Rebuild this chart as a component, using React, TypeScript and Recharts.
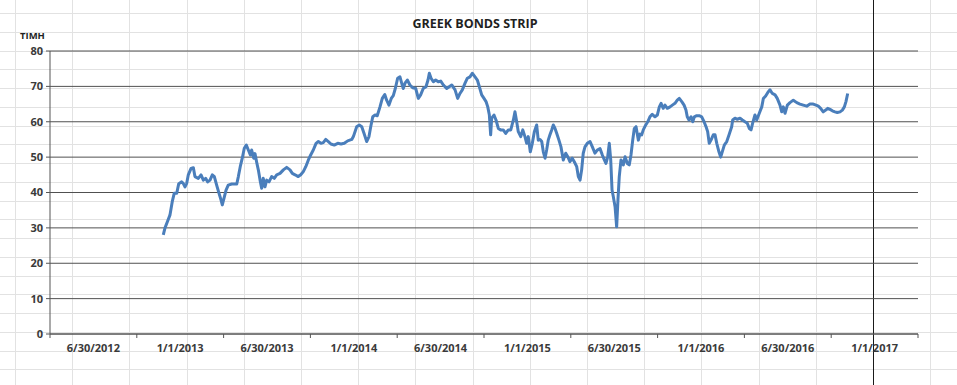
import { LineChart, Line, XAxis, YAxis, CartesianGrid } from 'recharts';

// x = months counted from 1/1/2012 (6/30/2012 ≈ 6, 1/1/2013 = 12 ...)
const months = [
  10.83, 10.95, 11.14, 11.29, 11.45, 11.59, 11.76, 11.9, 12.1, 12.21, 12.33, 12.45, 12.56, 12.75, 12.91, 13.02,
  13.25, 13.44, 13.6, 13.76, 13.9, 14.06, 14.22, 14.36, 14.52, 14.68, 14.82, 14.91, 15.03, 15.17, 15.32, 15.56,
  15.91, 16.02, 16.15, 16.29, 16.43, 16.57, 16.71, 16.85, 16.94, 17.08, 17.17, 17.29, 17.4, 17.52, 17.63, 17.74,
  17.86, 17.98, 18.14, 18.32, 18.5, 18.67, 18.9, 19.13, 19.36, 19.59, 19.75, 19.94, 20.16, 20.33, 20.51, 20.68,
  20.86, 21.02, 21.2, 21.39, 21.55, 21.73, 21.89, 22.06, 22.24, 22.42, 22.65, 22.89, 23.12, 23.34, 23.58, 23.86,
  23.97, 24.2, 24.38, 24.55, 24.71, 24.89, 25.05, 25.17, 25.31, 25.47, 25.62, 25.81, 25.97, 26.14, 26.27, 26.43,
  26.59, 26.73, 26.87, 27.03, 27.19, 27.31, 27.42, 27.54, 27.7, 27.88, 28.07, 28.28, 28.46, 28.62, 28.8, 28.99,
  29.13, 29.22, 29.34, 29.5, 29.66, 29.84, 30.01, 30.19, 30.42, 30.77, 31.0, 31.18, 31.34, 31.5, 31.69, 31.85,
  32.03, 32.19, 32.38, 32.54, 32.68, 32.84, 33.0, 33.14, 33.26, 33.37, 33.46, 33.53, 33.69, 33.83, 33.99, 34.15,
  34.33, 34.5, 34.68, 34.85, 35.03, 35.14, 35.26, 35.37, 35.54, 35.68, 35.83, 35.95, 36.06, 36.2, 36.34, 36.48,
  36.64, 36.75, 36.87, 36.99, 37.1, 37.22, 37.33, 37.44, 37.56, 37.68, 37.79, 37.91, 38.03, 38.18, 38.32, 38.48,
  38.65, 38.79, 38.94, 39.1, 39.24, 39.41, 39.52, 39.64, 39.75, 39.86, 39.98, 40.14, 40.33, 40.49, 40.67, 40.83,
  41.02, 41.18, 41.32, 41.43, 41.55, 41.66, 41.76, 41.85, 41.94, 42.06, 42.17, 42.26, 42.35, 42.47, 42.63, 42.75,
  42.91, 43.04, 43.16, 43.28, 43.39, 43.51, 43.67, 43.78, 43.9, 44.01, 44.18, 44.32, 44.47, 44.63, 44.82, 44.98,
  45.12, 45.24, 45.39, 45.51, 45.67, 45.86, 46.02, 46.2, 46.36, 46.5, 46.67, 46.83, 46.96, 47.05, 47.17, 47.31,
  47.43, 47.54, 47.7, 47.88, 48.05, 48.21, 48.35, 48.46, 48.57, 48.69, 48.85, 48.97, 49.09, 49.24, 49.36, 49.47,
  49.61, 49.78, 49.94, 50.12, 50.19, 50.35, 50.51, 50.7, 50.86, 51.04, 51.2, 51.34, 51.46, 51.57, 51.73, 51.85,
  52.03, 52.2, 52.31, 52.47, 52.65, 52.77, 52.93, 53.12, 53.27, 53.46, 53.58, 53.69, 53.81, 53.97, 54.15, 54.38,
  54.62, 54.84, 55.07, 55.31, 55.53, 55.76, 55.95, 56.11, 56.27, 56.45, 56.62, 56.76, 56.92, 57.08, 57.26, 57.42,
  57.61, 57.77, 57.91, 58.02, 58.14,
];

const prices = [
  28, 30, 32, 33.6, 37.4, 39.8, 39.8, 42.5, 43, 42.6, 41.6, 42.6, 45, 46.8, 47, 44.5,
  44, 45, 43.5, 44, 43, 43.5, 45, 44.5, 42.1, 39.8, 37.9, 36.5, 38.4, 40.7, 42.1, 42.4,
  42.4, 44.5, 47.3, 49.7, 52.5, 53.4, 52, 50.6, 52, 49.7, 51, 48.5, 46.4, 43.5, 41.2, 44,
  41.6, 43.5, 43, 44.5, 44, 45, 45.4, 46.4, 47.1, 46.4, 45.4, 45, 44.5, 45, 45.9, 47.3,
  49.2, 50.6, 52, 53.9, 54.4, 53.9, 54.1, 55, 54.4, 53.7, 53.4, 53.9, 53.7, 53.9, 54.6, 55,
  55.8, 58.6, 59.1, 58.6, 56.7, 54.4, 55.8, 58.6, 61.4, 61.9, 61.7, 64.2, 66.6, 67.7, 66.1, 64.7,
  66.6, 67.4, 69.4, 72.3, 72.7, 70.9, 69.4, 70.9, 71.8, 70.4, 69.6, 69.4, 66.6, 67.6, 69.4, 69.9,
  71.8, 73.7, 72.3, 71.3, 71.8, 71.3, 71.5, 70.4, 69.4, 70.4, 69, 66.6, 68, 69, 70.9, 72.3,
  72.7, 73.7, 72.7, 71.8, 69.9, 67.6, 66.6, 65.7, 64.2, 61.9, 56.3, 61, 61.9, 60.5, 58.1, 57.7,
  57.7, 56.7, 57.7, 57.7, 60.5, 62.8, 60, 57.2, 55.8, 57.7, 55.8, 53.9, 55.8, 51.5, 53.9, 57.2,
  59.1, 54.8, 55, 54.4, 51.5, 49.7, 52, 54.8, 56.3, 57.7, 59.1, 58.1, 56.7, 54.8, 52.9, 49.2,
  51.1, 50.1, 48.7, 49.7, 48.7, 47.3, 44.5, 43.5, 46.4, 51.1, 52.9, 53.9, 54.4, 52.9, 51.1, 52,
  52.4, 50.6, 49.2, 48.2, 50.1, 53.9, 49.2, 40.7, 38.8, 36, 30.3, 37.9, 44.5, 49.2, 47.8, 50.1,
  48.2, 47.8, 50.6, 54.8, 58.1, 58.6, 54.8, 56.5, 56.3, 57.7, 59.1, 60, 61.4, 62.1, 61.4, 61.9,
  64.2, 65.2, 63.8, 64.7, 63.8, 64.2, 64.7, 65.2, 66.1, 66.6, 65.7, 64.7, 63.3, 61.4, 60.5, 61.4,
  60, 61.4, 61.7, 61.7, 61.4, 60, 58.6, 57.2, 53.9, 54.8, 56.3, 56.3, 53.9, 51.5, 50, 51.5,
  53.4, 54.4, 56.3, 58.6, 60.5, 61, 60.7, 61, 60.5, 60, 59.6, 58.1, 57.7, 59.6, 61.9, 60.5,
  62.4, 64.2, 66.6, 67.3, 68.5, 69, 68, 67.6, 66.6, 64.7, 62.8, 64.2, 62.4, 64.7, 65.4, 66.1,
  65.4, 65, 64.7, 64.4, 65, 65, 64.7, 64.4, 63.8, 62.8, 63.3, 63.8, 63.5, 63.1, 62.8, 62.6,
  62.8, 63.3, 64.2, 65.7, 68,
];

const xLabels = ['6/30/2012', '1/1/2013', '6/30/2013', '1/1/2014', '6/30/2014', '1/1/2015', '6/30/2015', '1/1/2016', '6/30/2016', '1/1/2017'];
const xTicks = [3, 9, 15, 21, 27, 33, 39, 45, 51, 57, 63];
const yTicks = [0, 10, 20, 30, 40, 50, 60, 70, 80];

const data = months.map((m, i) => ({ m, v: prices[i] }));

const W = 957;
const H = 385;
const HALF = 868 / 20;
const FONT = '"Open Sans", "Liberation Sans", sans-serif';

const XTick = (props: any) => {
  const { x, y, payload } = props;
  const idx = Math.round((payload.value - 3) / 6);
  if (idx < 0 || idx >= xLabels.length) return <g />;
  return (
    <text x={x + HALF} y={y} dy={12} textAnchor="middle" fontFamily={FONT} fontSize={11} fontWeight={700} fill="#3a3a3a">
      {xLabels[idx]}
    </text>
  );
};

// spreadsheet cells behind the (transparent) chart
function SheetGrid() {
  const cols: number[] = [];
  for (let x = 15; x < W; x += 57.2) cols.push(Math.round(x) + 0.5);
  const rows: number[] = [];
  for (let y = 13; y < H; y += 18.75) rows.push(Math.round(y) + 0.5);
  return (
    <svg width={W} height={H} style={{ position: 'absolute', left: 0, top: 0 }}>
      <rect width={W} height={H} fill="#fff" />
      {rows.map((y) => <line key={'r' + y} x1={0} x2={W} y1={y} y2={y} stroke="#e2e2e2" />)}
      {cols.map((x) => <line key={'c' + x} x1={x} x2={x} y1={0} y2={H} stroke="#e2e2e2" />)}
      <line x1={873.5} x2={873.5} y1={0} y2={H} stroke="#1a1a1a" />
      <text x={475} y={28} textAnchor="middle" fontFamily={FONT} fontSize={12.5} fontWeight={700} fill="#1f1f1f">GREEK BONDS STRIP</text>
      <text x={20} y={39} fontFamily={FONT} fontSize={9.5} fontWeight={700} fill="#1f1f1f">TIMH</text>
    </svg>
  );
}

export default function App() {
  return (
    <div style={{ position: 'absolute', left: 0, top: 0, width: W, height: H, overflow: 'hidden' }}>
      <SheetGrid />
      <div style={{ position: 'absolute', left: 0, top: 0 }}>
        <LineChart width={W} height={H} data={data} margin={{ top: 51, right: 39, bottom: 21, left: 10 }}>
          <CartesianGrid vertical={false} stroke="#505050" strokeWidth={1} />
          <XAxis
            dataKey="m"
            type="number"
            domain={[3, 63]}
            ticks={xTicks}
            height={30}
            tickSize={4}
            tickMargin={2}
            stroke="#555"
            axisLine={{ stroke: '#555' }}
            tickLine={{ stroke: '#555' }}
            tick={<XTick />}
            allowDataOverflow
          />
          <YAxis
            type="number"
            domain={[0, 80]}
            ticks={yTicks}
            width={40}
            tickSize={4}
            tickMargin={3}
            axisLine={{ stroke: '#555' }}
            tickLine={{ stroke: '#555' }}
            tick={{ fontFamily: FONT, fontSize: 11, fontWeight: 700, fill: '#3a3a3a' }}
          />
          <Line
            type="linear"
            dataKey="v"
            stroke="#4a7ebb"
            strokeWidth={3}
            strokeLinejoin="round"
            dot={false}
            isAnimationActive={false}
          />
        </LineChart>
      </div>
    </div>
  );
}
